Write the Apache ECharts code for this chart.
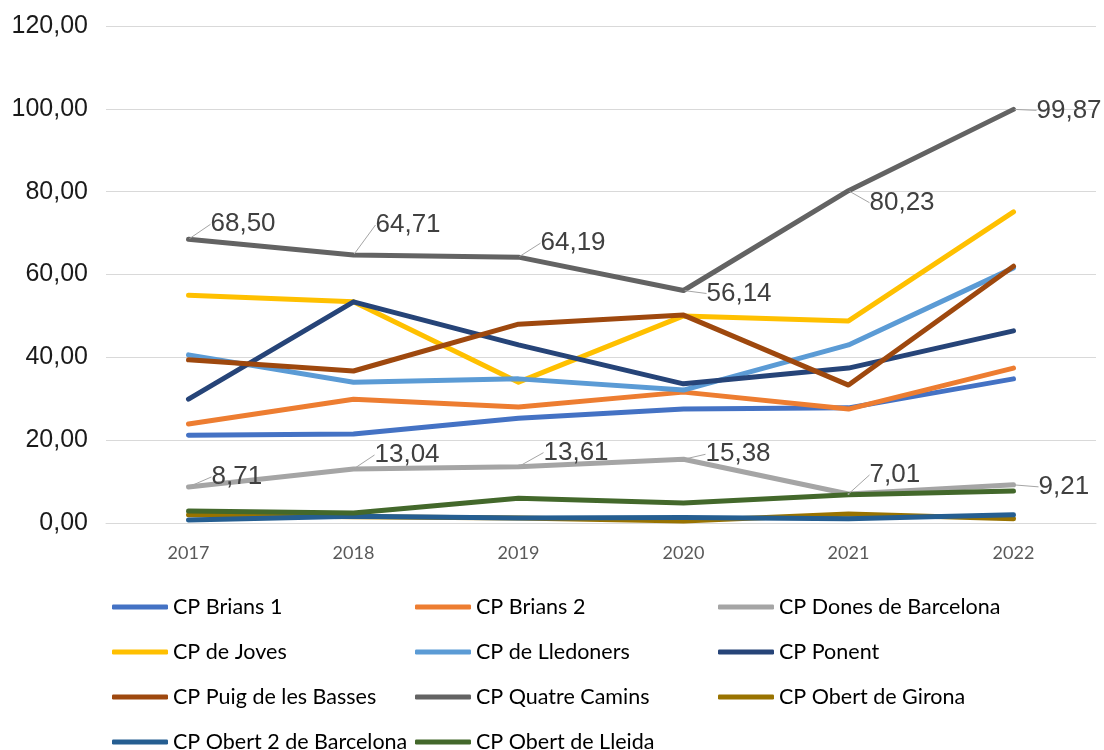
<!DOCTYPE html>
<html>
<head>
<meta charset="utf-8">
<script src="https://cdn.jsdelivr.net/npm/echarts@6/dist/echarts.min.js"></script>
<style>
  html, body { margin: 0; padding: 0; background: #fff; }
  #chart { width: 1104px; height: 750px; }
</style>
</head>
<body>
<div id="chart"></div>
<script>
'use strict'

var years = ['2017', '2018', '2019', '2020', '2021', '2022'];
var yTicks = [0, 20, 40, 60, 80, 100, 120];

var brians1 = [21.2, 21.5, 25.3, 27.5, 27.8, 34.8];
var brians2 = [23.9, 29.9, 28.0, 31.6, 27.5, 37.4];
var donesBarcelona = [8.71, 13.04, 13.61, 15.38, 7.01, 9.21];
var joves = [55.0, 53.4, 34.0, 50.0, 48.8, 75.1];
var lledoners = [40.6, 34.0, 34.8, 32.1, 43.0, 61.6];
var ponent = [29.9, 53.4, 43.0, 33.6, 37.4, 46.4];
var puigBasses = [39.4, 36.7, 48.0, 50.2, 33.3, 62.0];
var quatreCamins = [68.50, 64.71, 64.19, 56.14, 80.23, 99.87];
var obertGirona = [2.0, 1.5, 1.2, 0.5, 2.2, 1.0];
var obert2Barcelona = [0.7, 1.6, 1.2, 1.3, 1.0, 2.0];
var obertLleida = [2.9, 2.4, 6.0, 4.8, 6.8, 7.7];

// label shifts (dx, dy) for the two labelled series
var quatreShift = [[21, -15], [21, -30], [21, -14], [22, 3], [20, 12], [22, 1]];
var donesShift = [[22, -10], [20, -14], [24, -14], [21, -5], [20, -19], [24, 2]];

var fmt = function (v) { return v.toFixed(2).replace('.', ','); };

var chart = echarts.init(document.getElementById('chart'));

function line(name, data, color, shifts) {
    var s = {
        name: name,
        type: 'line',
        data: data,
        symbol: 'none',
        smooth: false,
        lineStyle: { width: 5, color: color, cap: 'round', join: 'round' },
        itemStyle: { color: color },
        emphasis: { disabled: true },
        silent: true
    };
    if (shifts) {
        s.symbol = 'circle';
        s.symbolSize = 2;
        s.showSymbol = true;
        s.label = {
            show: true,
            position: 'right',
            distance: 0,
            fontFamily: 'Liberation Sans',
            fontSize: 26,
            color: '#404040',
            formatter: function (p) { return fmt(p.value); }
        };
        s.labelLine = { show: true, lineStyle: { color: '#a5a5a5', width: 1 } };
        s.labelLayout = function (p) {
            var d = shifts[p.dataIndex];
            return { dx: d[0], dy: d[1] };
        };
    }
    return s;
}

var legendText = { fontFamily: 'Lato', fontSize: 21.5, color: '#000' };
function legendCol(left, names) {
    return {
        orient: 'vertical',
        left: left,
        top: 591,
        height: 220,
        itemWidth: 56,
        itemHeight: 5,
        itemGap: 23,
        icon: 'roundRect',
        textStyle: legendText,
        data: names,
        selectedMode: false
    };
}

chart.setOption({
    animation: false,
    backgroundColor: '#fff',
    grid: { left: 106, right: 8, top: 26, bottom: 227 },
    legend: [
        legendCol(107, ['CP Brians 1', 'CP de Joves', 'CP Puig de les Basses', 'CP Obert 2 de Barcelona']),
        legendCol(410, ['CP Brians 2', 'CP de Lledoners', 'CP Quatre Camins', 'CP Obert de Lleida']),
        legendCol(713, ['CP Dones de Barcelona', 'CP Ponent', 'CP Obert de Girona'])
    ],
    xAxis: {
        type: 'category',
        data: years,
        boundaryGap: true,
        axisLine: { show: true, lineStyle: { color: '#d9d9d9', width: 1 } },
        axisTick: { show: false },
        axisLabel: { margin: 21, fontFamily: 'Lato', fontSize: 18, color: '#595959' }
    },
    yAxis: {
        type: 'value',
        min: yTicks[0],
        max: yTicks[yTicks.length - 1],
        interval: 20,
        axisLine: { show: false },
        axisTick: { show: false },
        splitLine: { lineStyle: { color: '#d9d9d9', width: 1 } },
        axisLabel: { margin: 18, fontFamily: 'Liberation Sans', fontSize: 25, color: '#1a1a1a', formatter: fmt }
    },
    series: [
        line('CP Brians 1', brians1, '#4472c4'),
        line('CP Brians 2', brians2, '#ed7d31'),
        line('CP Dones de Barcelona', donesBarcelona, '#a5a5a5', donesShift),
        line('CP de Joves', joves, '#ffc000'),
        line('CP de Lledoners', lledoners, '#5b9bd5'),
        line('CP Ponent', ponent, '#264478'),
        line('CP Puig de les Basses', puigBasses, '#9e480e'),
        line('CP Quatre Camins', quatreCamins, '#636363', quatreShift),
        line('CP Obert de Girona', obertGirona, '#997300'),
        line('CP Obert 2 de Barcelona', obert2Barcelona, '#255e91'),
        line('CP Obert de Lleida', obertLleida, '#43682b')
    ]
});
</script>
</body>
</html>
